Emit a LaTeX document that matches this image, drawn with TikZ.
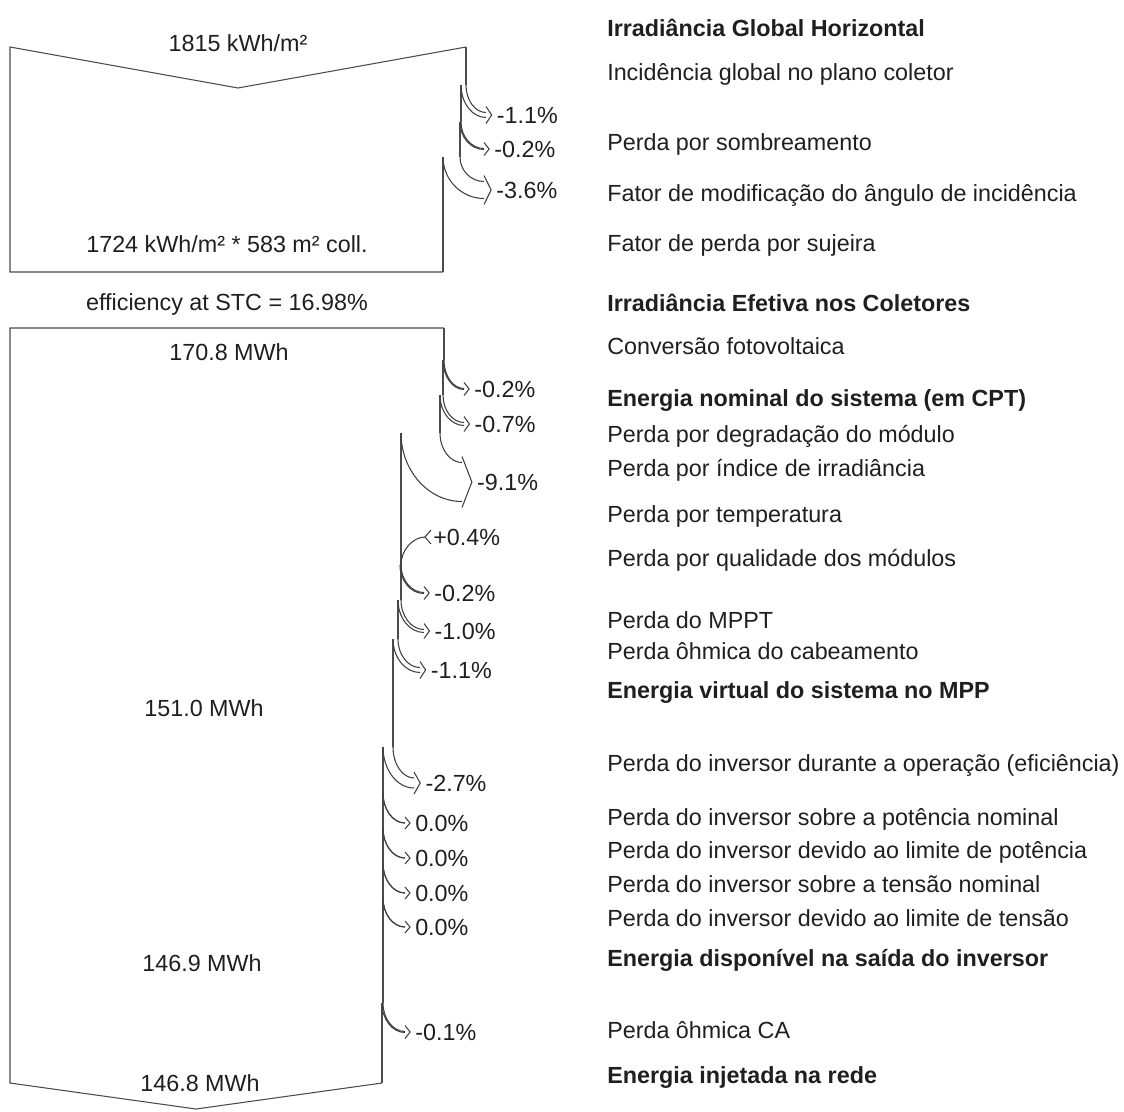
\documentclass[tikz,border=0pt]{standalone}
\usepackage{fontspec}
\setmainfont{Liberation Sans}
\usepackage{tikz}

\begin{document}
\begin{tikzpicture}[
  x=0.75pt, y=-0.75pt,
  flow/.style={draw=black!70, line width=0.8pt},
  loss/.style={draw=black!75, line width=0.8pt},
  val/.style={inner sep=0pt, text height=12.5pt, text depth=0pt, text=black!88,
    font=\fontsize{17.5}{21}\selectfont},
  pct/.style={val, anchor=west},
  desc/.style={val, anchor=west},
  headline/.style={desc, font=\fontsize{17.5}{21}\selectfont\bfseries}
]
\useasboundingbox (0,0) rectangle (1124,1111);

\draw[flow] (466,47) -- (238,88) -- (10,47) -- (10,272) -- (443,272);
\draw[flow] (444,328) -- (10,328) -- (10,1083) -- (196,1109) -- (382,1083);
\foreach \x/\ya/\yb in {466/47/85, 461/85/122, 460/122/157, 443/157/272,
    444/328/360, 443/360/395, 440/395/433, 401/433/600, 398/600/639,
    393/639/747, 383/747/1003, 382/1003/1083}
  \draw[flow] (\x,\ya) -- (\x,\yb);

\foreach \xo/\xi/\ys/\xe/\ty/\pc/\nm in {
    466/461/85/486/115/{-1.1\%}/shade, 461/460/122/484/149/{-0.2\%}/iam,
    460/443/157/484/190/{-3.6\%}/soil, 444/443/360/464/389/{-0.2\%}/degr,
    443/440/395/464/424/{-0.7\%}/irrlev, 440/401/433/462/482/{-9.1\%}/temp,
    401/400/565/424/593/{-0.2\%}/lid, 401/398/600/424/631/{-1.0\%}/mppt,
    398/393/639/420/670/{-1.1\%}/wire, 393/383/747/414/783/{-2.7\%}/invop,
    383/383/793/405/823/{0.0\%}/invpnom, 383/383/828/405/858/{0.0\%}/invpmax,
    383/383/863/405/893/{0.0\%}/invvnom, 383/383/898/405/927/{0.0\%}/invvmax,
    383/382/1003/405/1032/{-0.1\%}/acohm} {
  \pgfmathsetmacro\hw{(\xo-\xi)/2}
  \pgfmathsetmacro\ya{\ty-\hw}
  \pgfmathsetmacro\yb{\ty+\hw}
  \pgfmathsetmacro\tip{\xe+5+\hw/4}
  \draw[loss] (\xo,\ys) .. controls (\xo,{\ys+0.55*(\ya-\ys)}) and ({\xe-0.55*(\xe-\xo)},\ya) .. (\xe,\ya);
  \draw[loss] (\xi,\ys) .. controls (\xi,{\ys+0.55*(\yb-\ys)}) and ({\xe-0.55*(\xe-\xi)},\yb) .. (\xe,\yb);
  \draw[loss] (\xe,{\ya-6}) -- (\tip,\ty) -- (\xe,{\yb+6});
  \node[pct] (\nm) at ({\tip+5},\ty) {\pc};
}

\draw[loss] (401,565) .. controls (401,550) and (413,537) .. (425,537);
\draw[loss] (431,530) -- (425,537) -- (431,544);
\node[pct] (qual) at (433,537) {+0.4\%};

\node[val] (ghi) at (238,43) {1815 kWh/m²};
\node[val] (coll) at (227,244) {1724 kWh/m² * 583 m² coll.};
\node[val] (eff) at (227,302) {efficiency at STC = 16.98\%};
\node[val] (nom) at (229,352) {170.8 MWh};
\node[val] (mpp) at (204,708) {151.0 MWh};
\node[val] (invout) at (202,963) {146.9 MWh};
\node[val] (grid) at (200,1083) {146.8 MWh};

\node[headline] (dghi) at (607,28) {Irradiância Global Horizontal};
\node[desc] (dgpoa) at (607,72) {Incidência global no plano coletor};
\node[desc] (dshade) at (607,142) {Perda por sombreamento};
\node[desc] (diam) at (607,193) {Fator de modificação do ângulo de incidência};
\node[desc] (dsoil) at (607,243) {Fator de perda por sujeira};
\node[headline] (deff) at (607,303) {Irradiância Efetiva nos Coletores};
\node[desc] (dpv) at (607,346) {Conversão fotovoltaica};
\node[headline] (dnom) at (607,398) {Energia nominal do sistema (em CPT)};
\node[desc] (ddegr) at (607,434) {Perda por degradação do módulo};
\node[desc] (dirr) at (607,468) {Perda por índice de irradiância};
\node[desc] (dtemp) at (607,514) {Perda por temperatura};
\node[desc] (dqual) at (607,558) {Perda por qualidade dos módulos};
\node[desc] (dmppt) at (607,620) {Perda do MPPT};
\node[desc] (dwire) at (607,651) {Perda ôhmica do cabeamento};
\node[headline] (dmpp) at (607,690) {Energia virtual do sistema no MPP};
\node[desc] (dinvop) at (607,763) {Perda do inversor durante a operação (eficiência)};
\node[desc] (dpnom) at (607,817) {Perda do inversor sobre a potência nominal};
\node[desc] (dpmax) at (607,850) {Perda do inversor devido ao limite de potência};
\node[desc] (dvnom) at (607,884) {Perda do inversor sobre a tensão nominal};
\node[desc] (dvmax) at (607,918) {Perda do inversor devido ao limite de tensão};
\node[headline] (dinv) at (607,958) {Energia disponível na saída do inversor};
\node[desc] (dac) at (607,1030) {Perda ôhmica CA};
\node[headline] (dgrid) at (607,1075) {Energia injetada na rede};
\end{tikzpicture}
\end{document}
